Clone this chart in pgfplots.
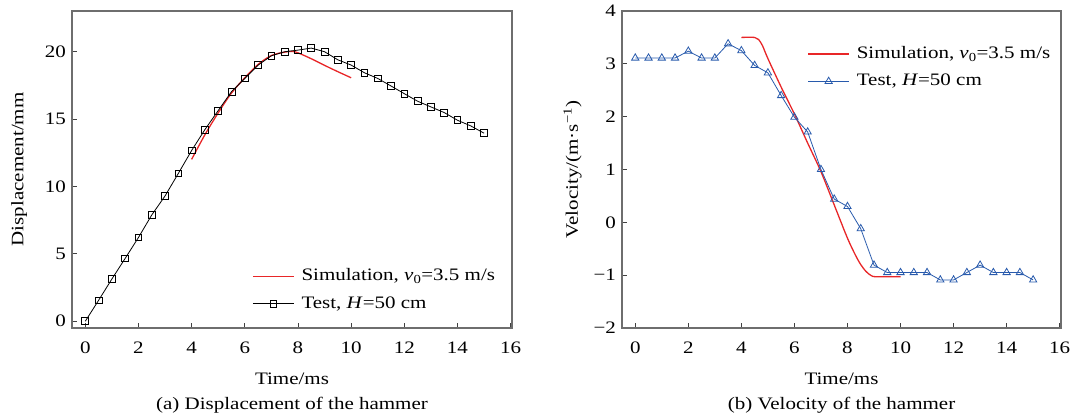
\documentclass[border=0pt]{standalone}
\usepackage{pgfplots}
\pgfplotsset{compat=1.18}
\usepackage{fontspec}
\setmainfont{Liberation Serif}[FakeStretch=1.2]
\definecolor{simred}{RGB}{232,38,40}
\definecolor{testblue}{RGB}{40,90,172}
\definecolor{axgray}{RGB}{110,110,110}
\begin{document}
\fontsize{17.5pt}{20pt}\selectfont
\begin{tikzpicture}[font=\fontsize{17.5pt}{20pt}\selectfont]
\path[use as bounding box] (-72pt,-91pt) rectangle (1002pt,328pt);
\pgfplotsset{
  myaxis/.style={
    scale only axis, width=440pt, height=317pt,
    axis line style={axgray, line width=1.6pt},
    tick align=inside, tick pos=left,
    major tick length=5pt,
    tick style={black!75, line width=0.8pt},
    /pgf/number format/assume math mode=true,
    xmin=-0.5, xmax=16.05, xtick={0,2,...,16},
    xticklabel style={yshift=-8pt},
    xlabel={Time/ms},
    xlabel style={yshift=-7pt},
    legend cell align=left,
    legend style={draw=none, fill=none, inner sep=0pt, row sep=9pt,
      font=\fontsize{17.5pt}{20pt}\selectfont},
  },
  simleg/.style={legend image code/.code={
      \draw[simred, line width=1.4pt] (0pt,0pt) -- (41pt,0pt);
      \path (46pt,0pt);}},
  testleg/.style={legend image code/.code={
      \draw[mark repeat=2,mark phase=2,##1] plot coordinates {(0pt,0pt) (20.5pt,0pt) (41pt,0pt)};
      \path (46pt,0pt);}},
}
\begin{axis}[myaxis, at={(0pt,0pt)}, anchor=south west,
  ymin=-0.5, ymax=23, ytick={0,5,10,15,20},
  ylabel={Displacement/mm},
  ylabel style={yshift=6pt},
  legend style={at={(rel axis cs:0.409,0.1935)}, anchor=north west}]
\addplot[simred, line width=1.3pt, smooth, simleg] coordinates {
(4,12.0)(4.5,13.83)(5,15.45)(5.5,16.92)(6,18.05)(6.5,19.04)(7,19.7)(7.5,19.95)(7.8,20.0)(8,19.9)(8.5,19.46)(9,18.97)(9.5,18.5)(10,18.05)};
\addlegendentry{Simulation, \textit{v}\textsubscript{0}=3.5 m/s}
\addplot[black, line width=0.8pt, mark=square, mark size=3.4pt, mark options={solid, fill=white, line width=0.8pt}, testleg] coordinates {
(0,0)(0.5,1.55)(1,3.13)(1.5,4.66)(2,6.21)(2.5,7.88)(3,9.29)(3.5,10.96)(4,12.66)(4.5,14.21)(5,15.62)(5.5,17.02)(6,18.0)(6.5,18.99)(7,19.68)(7.5,19.98)(8,20.1)(8.5,20.25)(9,19.98)(9.5,19.38)(10,18.99)(10.5,18.42)(11,18.0)(11.5,17.44)(12,16.87)(12.5,16.31)(13,15.89)(13.5,15.47)(14,14.9)(14.5,14.48)(15,13.94)};
\addlegendentry{Test, \textit{H}=50 cm}
\end{axis}
\node at (220pt,-77pt) {(a) Displacement of the hammer};
\begin{axis}[myaxis, at={(550pt,0pt)}, anchor=south west, width=439pt,
  ymin=-2, ymax=4, ytick={-2,-1,0,1,2,3,4},
  yticklabels={−2,−1,0,1,2,3,4},
  ylabel={Velocity/(m·s\textsuperscript{−1})},
  legend style={at={(rel axis cs:0.422,0.895)}, anchor=north west}]
\addplot[simred, line width=1.3pt, smooth, simleg] coordinates {
(4,3.5)(4.5,3.5)(4.65,3.46)(4.8,3.34)(5,3.1)(5.5,2.56)(6,2.05)(6.5,1.5)(7,0.96)(7.5,0.33)(8,-0.3)(8.3,-0.62)(8.5,-0.8)(8.7,-0.93)(8.9,-1.01)(9.1,-1.03)(10,-1.03)};
\addlegendentry{Simulation, \textit{v}\textsubscript{0}=3.5 m/s}
\addplot[testblue, line width=0.8pt, mark=triangle, mark size=4.2pt, mark options={solid, fill=white, line width=0.8pt}, testleg] coordinates {
(0,3.11)(0.5,3.11)(1,3.11)(1.5,3.11)(2,3.24)(2.5,3.11)(3,3.11)(3.5,3.38)(4,3.25)(4.5,2.97)(5,2.83)(5.5,2.40)(6,1.99)(6.5,1.71)(7,1.0)(7.5,0.44)(8,0.30)(8.5,-0.12)(9,-0.81)(9.5,-0.95)(10,-0.95)(10.5,-0.95)(11,-0.95)(11.5,-1.09)(12,-1.09)(12.5,-0.95)(13,-0.81)(13.5,-0.95)(14,-0.95)(14.5,-0.95)(15,-1.09)};
\addlegendentry{Test, \textit{H}=50 cm}
\end{axis}
\node at (769.5pt,-77pt) {(b) Velocity of the hammer};
\end{tikzpicture}
\end{document}
